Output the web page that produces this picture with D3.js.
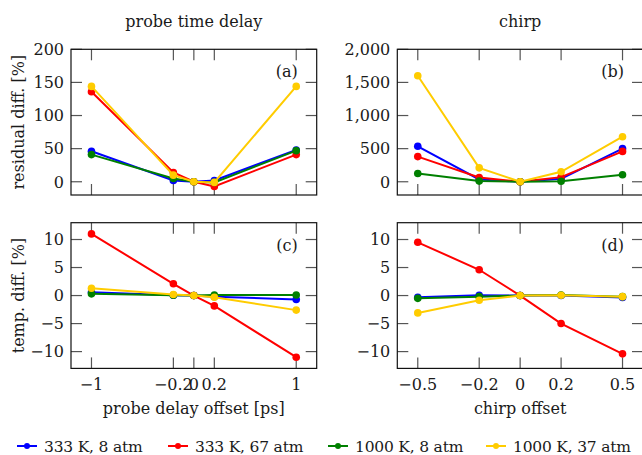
<!DOCTYPE html>
<html>
<head>
<meta charset="utf-8">
<script src="https://cdn.jsdelivr.net/npm/d3@7"></script>
<style>
  html, body { margin: 0; padding: 0; background: #fff; }
  svg { display: block; }
  text { font-family: "DejaVu Serif", "Liberation Serif", serif; fill: #1a1a1a; }
</style>
</head>
<body>
<svg id="chart" width="642" height="455"></svg>
<script>
// ---- data ----
const delayOffsets = [-1, -0.2, 0, 0.2, 1];
const chirpOffsets = [-0.5, -0.2, 0, 0.2, 0.5];

const seriesNames = ["333 K, 8 atm", "333 K, 67 atm", "1000 K, 8 atm", "1000 K, 37 atm"];
const seriesColors = ["#0000ff", "#ff0000", "#008000", "#ffcc00"];

// (a) residual difference vs probe delay offset [%]
const residualDelay_333_8 = [46, 2, 0, 2, 48];
const residualDelay_333_67 = [136, 14, 0, -7, 41];
const residualDelay_1000_8 = [41, 5, 0, -1, 47];
const residualDelay_1000_37 = [144, 10, 0, -1, 144];

// (b) residual difference vs chirp offset [%]
const residualChirp_333_8 = [535, 35, 0, 45, 500];
const residualChirp_333_67 = [380, 65, 0, 70, 458];
const residualChirp_1000_8 = [125, 10, 0, 8, 105];
const residualChirp_1000_37 = [1600, 210, 0, 150, 680];

// (c) temperature difference vs probe delay offset [%]
const tempDelay_333_8 = [0.6, 0.05, 0, -0.2, -0.7];
const tempDelay_333_67 = [11.0, 2.1, 0, -1.85, -11.0];
const tempDelay_1000_8 = [0.3, 0.05, 0, 0.1, 0.1];
const tempDelay_1000_37 = [1.3, 0.2, 0, -0.3, -2.6];

// (d) temperature difference vs chirp offset [%]
const tempChirp_333_8 = [-0.3, 0.05, 0, 0, -0.35];
const tempChirp_333_67 = [9.5, 4.6, 0, -5.0, -10.4];
const tempChirp_1000_8 = [-0.5, -0.2, 0, 0.1, -0.2];
const tempChirp_1000_37 = [-3.1, -0.85, 0, 0.05, -0.2];

const delayTicks = [-1, -0.2, 0, 0.2, 1];
const chirpTicks = [-0.5, -0.2, 0, 0.2, 0.5];
const residualDelayTicks = [0, 50, 100, 150, 200];
const residualChirpTicks = [0, 500, 1000, 1500, 2000];
const tempTicks = [-10, -5, 0, 5, 10];

// ---- layout ----
const svg = d3.select("#chart");
const colLeft = [71, 397.3];
const plotW = 245.7;
const rowTop = [49.3, 222.7];
const plotH = 145.7;
const tickLen = 11;
const fontSize = 16;

const panels = [
  { row: 0, col: 0, x: delayOffsets, xDomain: [-1.2, 1.2], xTicks: delayTicks, yDomain: [-20, 200], yTicks: residualDelayTicks,
    yFmt: d3.format(","), tag: "(a)", series: [residualDelay_333_8, residualDelay_333_67, residualDelay_1000_8, residualDelay_1000_37] },
  { row: 0, col: 1, x: chirpOffsets, xDomain: [-0.6, 0.6], xTicks: chirpTicks, yDomain: [-200, 2000], yTicks: residualChirpTicks,
    yFmt: d3.format(","), tag: "(b)", series: [residualChirp_333_8, residualChirp_333_67, residualChirp_1000_8, residualChirp_1000_37] },
  { row: 1, col: 0, x: delayOffsets, xDomain: [-1.2, 1.2], xTicks: delayTicks, yDomain: [-13, 13], yTicks: tempTicks,
    yFmt: d3.format(""), tag: "(c)", series: [tempDelay_333_8, tempDelay_333_67, tempDelay_1000_8, tempDelay_1000_37] },
  { row: 1, col: 1, x: chirpOffsets, xDomain: [-0.6, 0.6], xTicks: chirpTicks, yDomain: [-13, 13], yTicks: tempTicks,
    yFmt: d3.format(""), tag: "(d)", series: [tempChirp_333_8, tempChirp_333_67, tempChirp_1000_8, tempChirp_1000_37] }
];

panels.forEach(p => {
  const x0 = colLeft[p.col], y0 = rowTop[p.row];
  const xs = d3.scaleLinear().domain(p.xDomain).range([x0, x0 + plotW]);
  const ys = d3.scaleLinear().domain(p.yDomain).range([y0 + plotH, y0]);
  const g = svg.append("g");

  // inward ticks on all four sides
  const tickStyle = s => s.attr("stroke", "#555").attr("stroke-width", 1.2);
  p.xTicks.forEach(t => {
    g.append("line").attr("x1", xs(t)).attr("x2", xs(t)).attr("y1", y0).attr("y2", y0 + tickLen).call(tickStyle);
    g.append("line").attr("x1", xs(t)).attr("x2", xs(t)).attr("y1", y0 + plotH).attr("y2", y0 + plotH - tickLen).call(tickStyle);
  });
  p.yTicks.forEach(t => {
    g.append("line").attr("x1", x0).attr("x2", x0 + tickLen).attr("y1", ys(t)).attr("y2", ys(t)).call(tickStyle);
    g.append("line").attr("x1", x0 + plotW).attr("x2", x0 + plotW - tickLen).attr("y1", ys(t)).attr("y2", ys(t)).call(tickStyle);
  });

  // frame
  g.append("rect").attr("x", x0).attr("y", y0).attr("width", plotW).attr("height", plotH)
    .attr("fill", "none").attr("stroke", "#111").attr("stroke-width", 1.2);

  // y tick labels
  g.selectAll(".ylab").data(p.yTicks).join("text")
    .attr("x", x0 - 7).attr("y", d => ys(d)).attr("dy", "0.36em")
    .attr("text-anchor", "end").attr("font-size", fontSize)
    .text(d => p.yFmt(d));

  // x tick labels only on the bottom row
  if (p.row === 1) {
    g.selectAll(".xlab").data(p.xTicks).join("text")
      .attr("x", d => xs(d)).attr("y", y0 + plotH + 22)
      .attr("text-anchor", "middle").attr("font-size", fontSize)
      .text(d => d3.format("")(d));
  }

  // panel tag
  g.append("text").attr("x", x0 + plotW - 19).attr("y", y0 + 28)
    .attr("text-anchor", "end").attr("font-size", fontSize).text(p.tag);

  // series
  const line = d3.line().x((d, i) => xs(p.x[i])).y(d => ys(d));
  p.series.forEach((vals, si) => {
    g.append("path").datum(vals).attr("d", line)
      .attr("fill", "none").attr("stroke", seriesColors[si]).attr("stroke-width", 2);
    g.selectAll(null).data(vals).join("circle")
      .attr("cx", (d, i) => xs(p.x[i])).attr("cy", d => ys(d)).attr("r", 3.8)
      .attr("fill", seriesColors[si]);
  });
});

// column titles
svg.append("text").attr("x", colLeft[0] + plotW / 2).attr("y", 27).attr("text-anchor", "middle")
  .attr("font-size", fontSize).text("probe time delay");
svg.append("text").attr("x", colLeft[1] + plotW / 2).attr("y", 27).attr("text-anchor", "middle")
  .attr("font-size", fontSize).text("chirp");

// x axis titles
svg.append("text").attr("x", colLeft[0] + plotW / 2).attr("y", 414).attr("text-anchor", "middle")
  .attr("font-size", fontSize).text("probe delay offset [ps]");
svg.append("text").attr("x", colLeft[1] + plotW / 2).attr("y", 414).attr("text-anchor", "middle")
  .attr("font-size", fontSize).text("chirp offset");

// y axis titles
svg.append("text").attr("transform", `translate(24,${rowTop[0] + plotH / 2}) rotate(-90)`)
  .attr("text-anchor", "middle").attr("font-size", fontSize).text("residual diff. [%]");
svg.append("text").attr("transform", `translate(24,${rowTop[1] + plotH / 2}) rotate(-90)`)
  .attr("text-anchor", "middle").attr("font-size", fontSize).text("temp. diff. [%]");

// legend
const legendX = [17, 168, 328, 486];
const legendY = 446;
seriesNames.forEach((name, i) => {
  const lg = svg.append("g").attr("transform", `translate(${legendX[i]},${legendY})`);
  lg.append("line").attr("x1", 0).attr("x2", 20).attr("y1", 0).attr("y2", 0)
    .attr("stroke", seriesColors[i]).attr("stroke-width", 2);
  lg.append("circle").attr("cx", 10).attr("cy", 0).attr("r", 3).attr("fill", seriesColors[i]);
  lg.append("text").attr("x", 27).attr("y", 0).attr("dy", "0.36em").attr("font-size", 15.5)
    .attr("letter-spacing", -0.2).text(name);
});
</script>
</body>
</html>
